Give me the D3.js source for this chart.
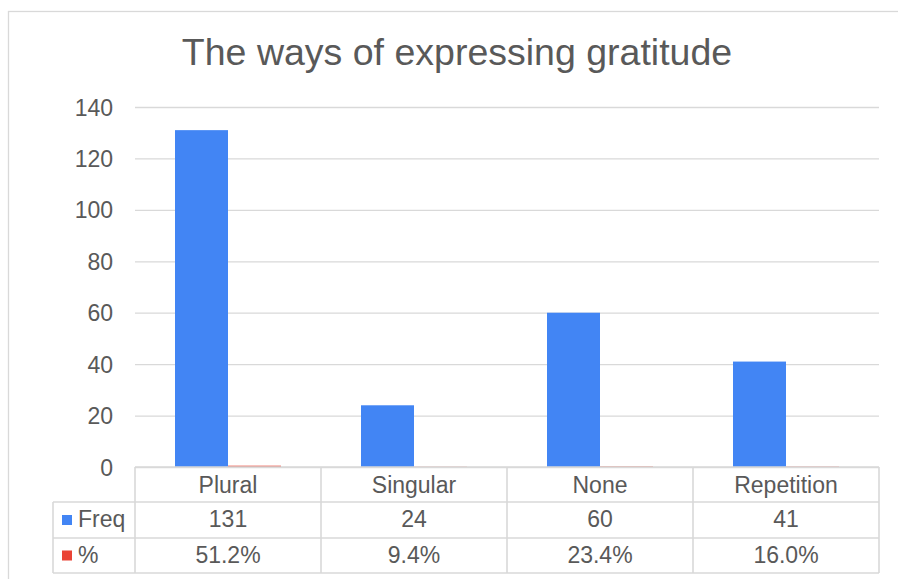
<!DOCTYPE html>
<html>
<head>
<meta charset="utf-8">
<script src="https://cdn.jsdelivr.net/npm/d3@7"></script>
<style>
  html, body { margin: 0; padding: 0; background: #fff; }
  svg { display: block; font-family: "Liberation Sans", Arial, sans-serif; }
</style>
</head>
<body>
<svg id="chart" width="898" height="579"></svg>
<script>
// Chart data
const title = "The ways of expressing gratitude";
const categories = ["Plural", "Singular", "None", "Repetition"];
const seriesNames = ["Freq", "%"];
const freqValues = [131, 24, 60, 41];
const pctValues = [0.512, 0.094, 0.234, 0.160];
const pctLabels = ["51.2%", "9.4%", "23.4%", "16.0%"];
const yTicks = [0, 20, 40, 60, 80, 100, 120, 140];
const seriesColors = ["#4285F4", "#EA4335"];

const svg = d3.select("#chart");
const textColor = "#595959";
const lineColor = "#d9d9d9";

// Layout
const plotLeft = 135, plotRight = 879, plotTop = 107, plotBottom = 467;
const rowLines = [467, 502, 538, 573];
const legendLeft = 53;

// Outer frame
svg.append("rect")
  .attr("x", 8.5).attr("y", 11.5)
  .attr("width", 900).attr("height", 600)
  .attr("fill", "none").attr("stroke", lineColor).attr("stroke-width", 1.3);

// Title
svg.append("text")
  .attr("x", 457).attr("y", 65)
  .attr("text-anchor", "middle")
  .attr("font-size", 37.5)
  .attr("fill", textColor)
  .text(title);

// Scales
const y = d3.scaleLinear().domain([0, 140]).range([plotBottom, plotTop]);
const x = d3.scaleBand().domain(categories).range([plotLeft, plotRight]).padding(0);
const xSub = d3.scaleBand().domain(seriesNames).range([40, x.bandwidth() - 40]).padding(0);

// Gridlines and y axis labels
const yAxis = d3.axisLeft(y).tickValues(yTicks).tickSize(-(plotRight - plotLeft)).tickPadding(22).tickFormat(d3.format("d"));
const gAxis = svg.append("g").attr("transform", `translate(${plotLeft},0)`).call(yAxis);
gAxis.select(".domain").remove();
gAxis.selectAll(".tick line").attr("stroke", lineColor).attr("stroke-width", 1.3);
gAxis.selectAll(".tick text")
  .attr("fill", textColor)
  .attr("font-size", 23)
  .attr("font-family", "Liberation Sans, Arial, sans-serif")
  .attr("dy", "0.35em");

// Bars
const series = [freqValues, pctValues];
const gBars = svg.append("g");
series.forEach((vals, si) => {
  gBars.selectAll(`.bar-${si}`)
    .data(categories.map((c, i) => ({ c, v: vals[i] })))
    .join("rect")
    .attr("class", `bar-${si}`)
    .attr("x", d => x(d.c) + xSub(seriesNames[si]))
    .attr("width", xSub.bandwidth())
    .attr("y", d => y(d.v))
    .attr("height", d => y(0) - y(d.v))
    .attr("fill", seriesColors[si]);
});

// Data table under the plot
const gTable = svg.append("g");
// horizontal rules
gTable.append("line")
  .attr("x1", plotLeft).attr("x2", plotRight)
  .attr("y1", rowLines[0]).attr("y2", rowLines[0]);
rowLines.slice(1).forEach(yy => {
  gTable.append("line")
    .attr("x1", legendLeft).attr("x2", plotRight)
    .attr("y1", yy).attr("y2", yy);
});
// vertical rules
gTable.append("line")
  .attr("x1", legendLeft).attr("x2", legendLeft)
  .attr("y1", rowLines[1]).attr("y2", rowLines[3]);
categories.forEach(c => {
  gTable.append("line")
    .attr("x1", x(c)).attr("x2", x(c))
    .attr("y1", rowLines[0]).attr("y2", rowLines[3]);
});
gTable.append("line")
  .attr("x1", plotRight).attr("x2", plotRight)
  .attr("y1", rowLines[0]).attr("y2", rowLines[3]);
gTable.selectAll("line").attr("stroke", lineColor).attr("stroke-width", 1.6);

const cellText = (xx, yy, t, anchor) => gTable.append("text")
  .attr("x", xx).attr("y", yy)
  .attr("text-anchor", anchor || "middle")
  .attr("font-size", 23)
  .attr("fill", textColor)
  .text(t);

const baselines = [493, 527, 563];
categories.forEach((c, i) => {
  const cx = x(c) + x.bandwidth() / 2;
  cellText(cx, baselines[0], c);
  cellText(cx, baselines[1], String(freqValues[i]));
  cellText(cx, baselines[2], pctLabels[i]);
});

// Legend keys in the first column
seriesNames.forEach((s, si) => {
  const rowMid = (rowLines[si + 1] + rowLines[si + 2]) / 2;
  gTable.append("rect")
    .attr("x", 62).attr("y", rowMid - 5)
    .attr("width", 10).attr("height", 10)
    .attr("fill", seriesColors[si]);
  cellText(78, baselines[si + 1], s, "start");
});
</script>
</body>
</html>
